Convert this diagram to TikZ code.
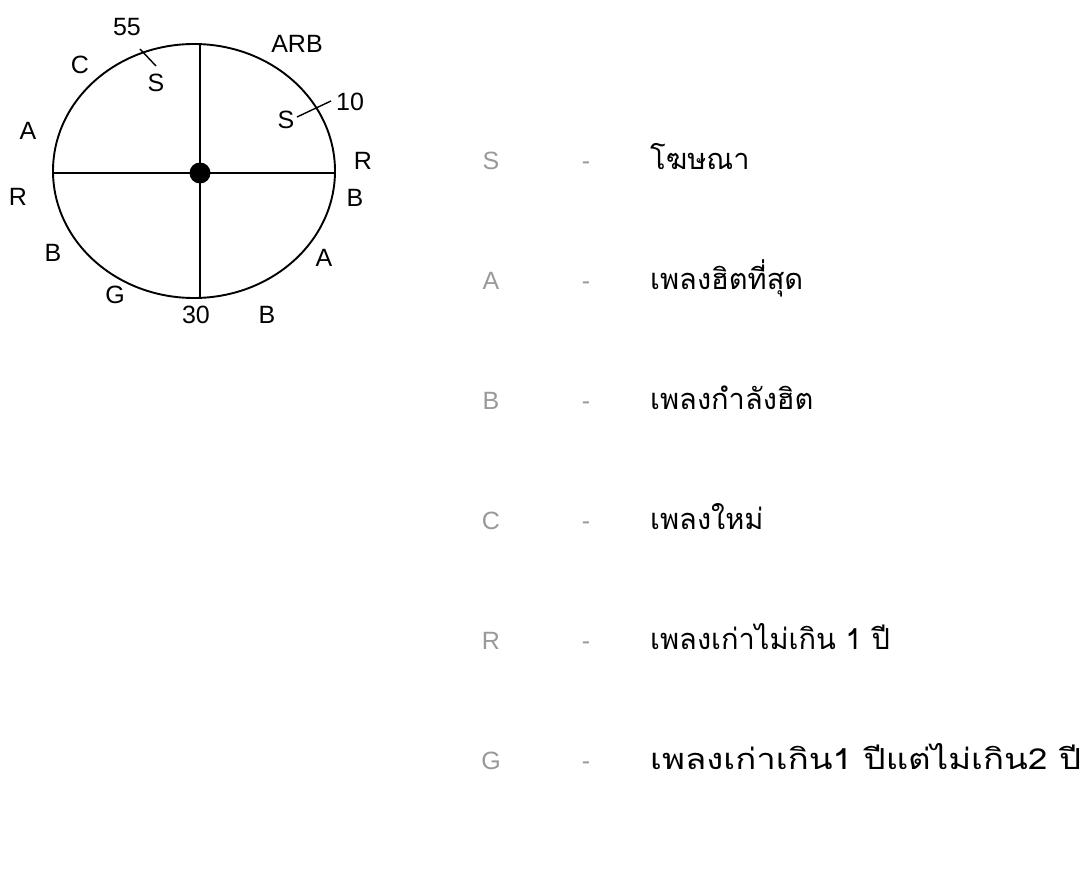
\documentclass[tikz,border=0pt]{standalone}
\usepackage{fontspec}
\setmainfont{Liberation Sans}
\newfontfamily\thaifont[Script=Thai]{Loma}
\begin{document}
\begin{tikzpicture}[x=1pt,y=-1pt,
  lbl/.style={font=\fontsize{25}{28}\selectfont, inner sep=0pt},
  key/.style={font=\fontsize{25}{28}\selectfont, inner sep=0pt, text=black!40, anchor=base},
  desc/.style={font=\thaifont\fontsize{29}{32}\selectfont, inner sep=0pt, anchor=base west},
  wheel/.style={line width=1.9pt}]
\useasboundingbox (0,0) rectangle (1091,869);
% wheel
\draw[wheel] (194,171) ellipse [x radius=141, y radius=127];
\coordinate (hl) at (53,173); \coordinate (hr) at (334,173);
\coordinate (vt) at (200,44); \coordinate (vb) at (200,297);
\draw[wheel] (hl) -- (hr);
\draw[wheel] (vt) -- (vb);
\node[circle, fill=black, minimum size=21pt, inner sep=0pt] (hub) at (200,173) {};
% labels
\node[lbl] (n55) at (127,27) {55};
\node[lbl] (s1) at (156,83) {S};
\coordinate (t1a) at (140,49); \coordinate (t1b) at (156,66);
\draw[line width=1.4pt] (t1a) -- (t1b);
\node[lbl] (c1) at (80,65) {C};
\node[lbl] (arb) at (297,44) {ARB};
\node[lbl] (n10) at (350,102) {10};
\node[lbl] (s2) at (286,120) {S};
\coordinate (t2a) at (297,117); \coordinate (t2b) at (331,101);
\draw[line width=1.4pt] (t2a) -- (t2b);
\node[lbl] (a1) at (28,131) {A};
\node[lbl] (r1) at (363,161) {R};
\node[lbl] (r2) at (18,197) {R};
\node[lbl] (b1) at (355,198) {B};
\node[lbl] (b2) at (53,253) {B};
\node[lbl] (a2) at (324,258) {A};
\node[lbl] (g1) at (115,295) {G};
\node[lbl] (n30) at (196,315) {30};
\node[lbl] (b3) at (267,315) {B};
% legend
\foreach \k/\t/\y [count=\i] in {S/โฆษณา/160, A/เพลงฮิตที่สุด/280, B/เพลงกำลังฮิต/400, C/เพลงใหม่/520, R/เพลงเก่าไม่เกิน 1 ปี/640}{
  \node[key] (k\i) at (491,\y+9) {\k};
  \node[key] (d\i) at (586,\y+9) {-};
  \node[desc] (t\i) at (650,\y+9) {\t};
}
\node[key] (k6) at (491,769) {G};
\node[key] (d6) at (586,769) {-};
\node[desc] (t6) at (650,769) {\scalebox{1.2}[1]{เพลงเก่าเกิน1 ปีแต่ไม่เกิน2 ปี}};
\end{tikzpicture}
\end{document}
